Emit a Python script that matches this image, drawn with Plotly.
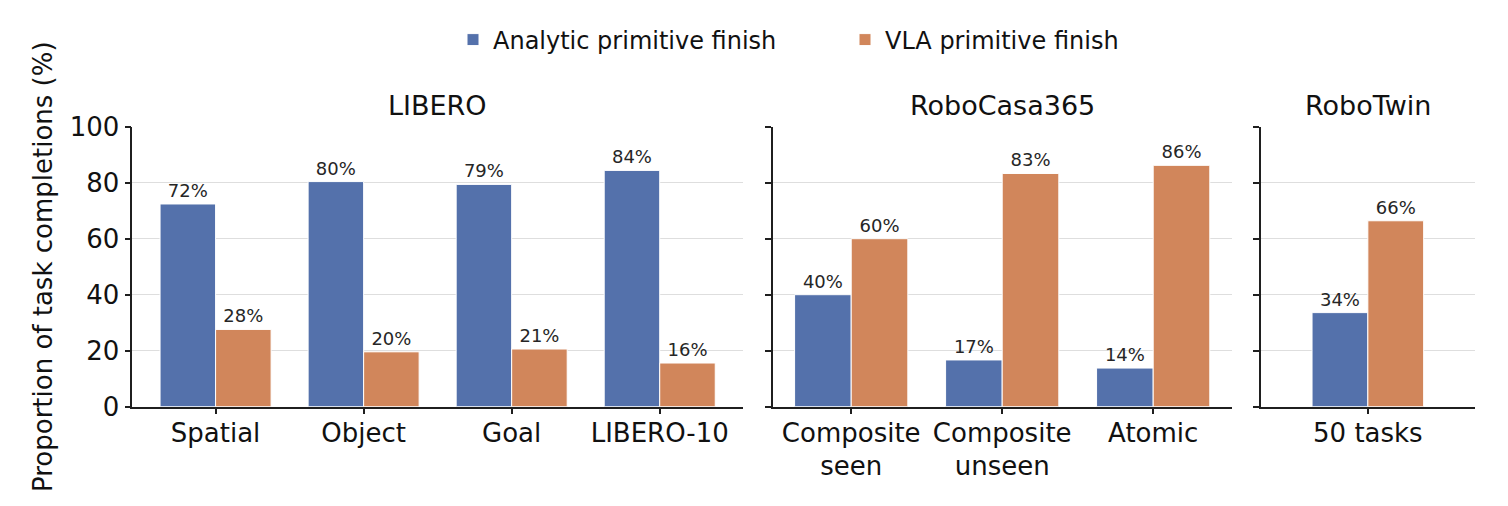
import plotly.graph_objects as go

# ---- data ----
libero_cats = ["Spatial", "Object", "Goal", "LIBERO-10"]
libero_analytic = [72.4, 80.4, 79.4, 84.4]
libero_vla = [27.6, 19.6, 20.6, 15.6]

robocasa_cats = ["Composite<br>seen", "Composite<br>unseen", "Atomic"]
robocasa_analytic = [40.0, 16.7, 13.8]
robocasa_vla = [60.0, 83.3, 86.2]

robotwin_cats = ["50 tasks"]
robotwin_analytic = [33.6]
robotwin_vla = [66.4]

panel_titles = ["LIBERO", "RoboCasa365", "RoboTwin"]
series_names = ["Analytic primitive finish", "VLA primitive finish"]
y_ticks = [0, 20, 40, 60, 80, 100]

# ---- style ----
BLUE = "#5471ab"
ORANGE = "#d1865b"
FONT = "DejaVu Sans"
W, H = 1508, 506

panels = [
    (libero_cats, libero_analytic, libero_vla, "x", "y"),
    (robocasa_cats, robocasa_analytic, robocasa_vla, "x2", "y2"),
    (robotwin_cats, robotwin_analytic, robotwin_vla, "x3", "y3"),
]

fig = go.Figure()
for i, (cats, a, v, xa, ya) in enumerate(panels):
    for name, vals, col in ((series_names[0], a, BLUE), (series_names[1], v, ORANGE)):
        fig.add_trace(go.Bar(
            x=cats, y=vals, name=name, xaxis=xa, yaxis=ya,
            marker=dict(color=col, line=dict(color="white", width=1)),
            text=[f"{round(val)}%" for val in vals],
            textposition="outside", constraintext="none", cliponaxis=False,
            textfont=dict(family=FONT, size=18, color="#262626"),
            legendgroup=name, showlegend=(i == 0),
        ))

px = lambda p: p / W
py = lambda p: 1 - p / H
ydom = [py(406.7), py(126.7)]
xdoms = [[px(132.3), px(743)], [px(772.7), px(1231.7)], [px(1260.7), px(1475)]]
xranges = [[-0.5625, 3.5625], [-0.52, 2.52], [-0.72, 0.72]]

axis_common = dict(
    showline=True, linecolor="#1f1f1f", linewidth=1.5,
    ticks="outside", ticklen=6, tickwidth=1.5, tickcolor="#1f1f1f",
    tickfont=dict(family=FONT, size=26, color="#111111"),
    zeroline=False, automargin=False,
)

layout = dict(
    width=W, height=H,
    margin=dict(l=0, r=0, t=0, b=0, autoexpand=False),
    plot_bgcolor="white", paper_bgcolor="white",
    barmode="group", bargap=0.25, bargroupgap=0,
    font=dict(family=FONT, color="#111111"),
    legend=dict(orientation="h", x=px(453), xanchor="left", y=py(40), yanchor="middle",
                font=dict(family=FONT, size=24, color="#111111"),
                entrywidth=347, traceorder="normal"),
)

for k in range(3):
    sx = "" if k == 0 else str(k + 1)
    layout["xaxis" + sx] = dict(axis_common, domain=xdoms[k], range=xranges[k],
                               anchor="y" + sx, showgrid=False, type="category",
                               ticklabelstandoff=-4)
    yax = dict(axis_common, domain=ydom, range=[0, 100], anchor="x" + sx,
               tickvals=y_ticks, showgrid=True, gridcolor="#dedede", gridwidth=1)
    if k == 0:
        yax["title"] = dict(text="Proportion of task completions (%)",
                            font=dict(family=FONT, size=26, color="#111111"), standoff=10)
    else:
        yax["showticklabels"] = False
    layout["yaxis" + sx] = yax

fig.update_layout(**layout)

for k, t in enumerate(panel_titles):
    fig.add_annotation(text=t, xref="paper", yref="paper",
                       x=(xdoms[k][0] + xdoms[k][1]) / 2, y=py(105),
                       xanchor="center", yanchor="middle", showarrow=False,
                       font=dict(family=FONT, size=27, color="#111111"))

fig.write_html("out.html")
